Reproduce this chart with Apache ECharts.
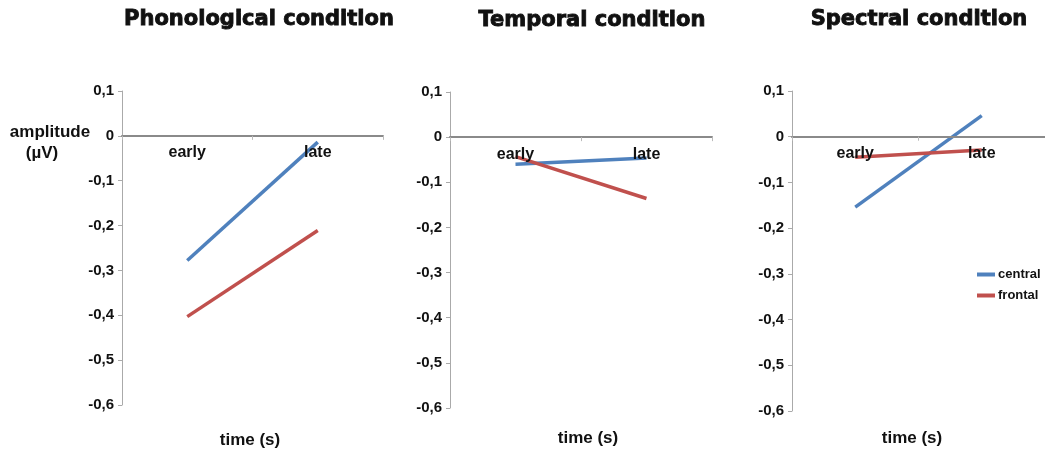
<!DOCTYPE html>
<html>
<head>
<meta charset="utf-8">
<script src="https://cdn.jsdelivr.net/npm/echarts@6/dist/echarts.min.js"></script>
<style>
html, body { margin: 0; padding: 0; background: #fff; }
#main { width: 1045px; height: 453px; }
</style>
</head>
<body>
<div id="main"></div>
<script>
var categories = ['early', 'late'];
var panelTitles = ['Phonological condition', 'Temporal condition', 'Spectral condition'];
var seriesNames = ['central', 'frontal'];

var phonCentral = [-0.278, -0.014];
var phonFrontal = [-0.403, -0.211];
var tempCentral = [-0.060, -0.046];
var tempFrontal = [-0.043, -0.136];
var specCentral = [-0.154, 0.046];
var specFrontal = [-0.045, -0.029];

var yMin = -0.6, yMax = 0.1, yStep = 0.1;

var font = '"Liberation Sans", Arial, sans-serif';
var colors = ['#4F81BD', '#C0504D'];

var grids = [
    { left: 122, top: 91, width: 261, height: 314 },
    { left: 450, top: 92, width: 262, height: 316 },
    { left: 792, top: 91, width: 262, height: 320 }
];
var panelData = [
    [phonCentral, phonFrontal],
    [tempCentral, tempFrontal],
    [specCentral, specFrontal]
];

var fmt = function (v) {
    var r = Math.round(v * 10) / 10;
    if (r === 0) return '0';
    return r.toFixed(1).replace('.', ',');
};

var xAxes = [], yAxes = [], series = [];
grids.forEach(function (g, i) {
    // category axis sits on the zero line, labels hang below it
    var zeroOffset = g.height * yMax / (yMax - yMin);
    xAxes.push({
        type: 'category',
        gridIndex: i,
        data: categories,
        boundaryGap: true,
        position: 'top',
        offset: -zeroOffset,
        axisLine: { onZero: false, lineStyle: { color: '#8a8a8a', width: 2 } },
        axisTick: { show: true, inside: true, length: 4, lineStyle: { color: '#bbb' } },
        axisLabel: { inside: true, color: '#111', fontFamily: font, fontWeight: 'bold', fontSize: 16, margin: 9 },
        z: 1
    });
    yAxes.push({
        type: 'value',
        gridIndex: i,
        min: yMin,
        max: yMax,
        interval: yStep,
        splitLine: { show: false },
        axisLine: { show: true, onZero: false, lineStyle: { color: '#aaa', width: 1 } },
        axisTick: { show: true, length: 4, lineStyle: { color: '#aaa' } },
        axisLabel: { color: '#111', fontFamily: font, fontWeight: 'bold', fontSize: 15, margin: 8, formatter: fmt }
    });
    panelData[i].forEach(function (d, k) {
        series.push({
            name: seriesNames[k],
            type: 'line',
            xAxisIndex: i,
            yAxisIndex: i,
            data: d,
            symbol: 'none',
            silent: true,
            z: 0,
            lineStyle: { width: 3.5, color: colors[k] },
            itemStyle: { color: colors[k] }
        });
    });
});

var titleX = [259, 592, 919];
var timeX = [250, 588, 912];
var graphics = [];
panelTitles.forEach(function (t, i) {
    graphics.push({
        type: 'text', x: titleX[i], y: i === 1 ? 21 : 20,
        style: { text: t, align: 'center', verticalAlign: 'middle', fill: '#111',
            stroke: '#111', lineWidth: 0.9,
            font: 'bold 21px "DejaVu Sans", sans-serif' }
    });
    graphics.push({
        type: 'text', x: timeX[i], y: i === 0 ? 440 : 438,
        style: { text: 'time (s)', align: 'center', verticalAlign: 'middle', fill: '#111',
            font: 'bold 17px ' + font }
    });
});
graphics.push({
    type: 'text', x: 50, y: 132,
    style: { text: 'amplitude', align: 'center', verticalAlign: 'middle', fill: '#111', font: 'bold 17px ' + font }
});
graphics.push({
    type: 'text', x: 42, y: 153,
    style: { text: '(\u00b5V)', align: 'center', verticalAlign: 'middle', fill: '#111', font: 'bold 17px ' + font }
});

var chart = echarts.init(document.getElementById('main'));
chart.setOption({
    animation: false,
    grid: grids,
    xAxis: xAxes,
    yAxis: yAxes,
    series: series,
    legend: {
        data: seriesNames,
        orient: 'vertical',
        left: 972,
        top: 263,
        icon: 'rect',
        itemWidth: 18,
        itemHeight: 4,
        itemGap: 8,
        selectedMode: false,
        textStyle: { color: '#111', fontFamily: font, fontWeight: 'bold', fontSize: 13, padding: [0, 0, 0, -2] }
    },
    graphic: graphics
});
</script>
</body>
</html>
